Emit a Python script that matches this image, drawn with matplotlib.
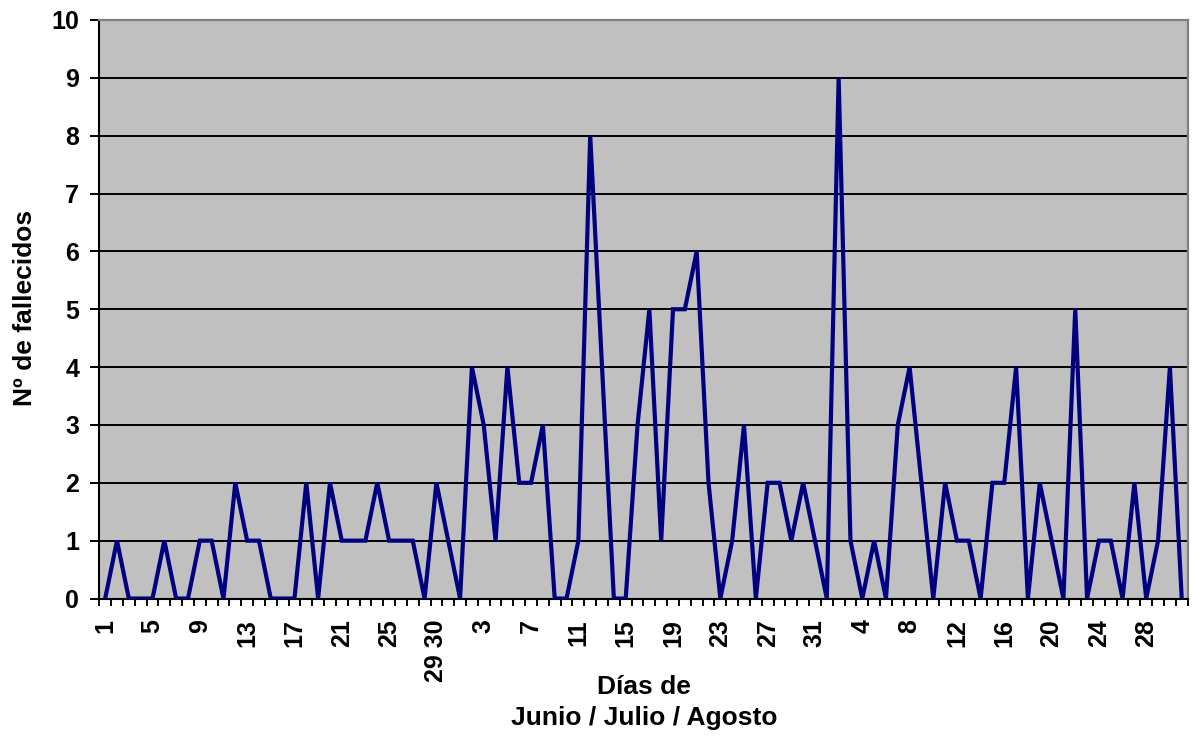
import matplotlib
matplotlib.use('Agg')
import matplotlib.pyplot as plt
import numpy as np

plt.rcParams['font.family'] = ['Liberation Sans', 'DejaVu Sans']
plt.rcParams['font.weight'] = 'bold'

# Días (categorías) de junio, julio y agosto
dias_junio = [str(d) for d in range(1, 29)] + ['29 30', '30']
dias_julio = [str(d) for d in range(1, 32)]
dias_agosto = [str(d) for d in range(1, 32)]

# Nº de fallecidos por día
fallecidos_junio = [0, 1, 0, 0, 0, 1, 0, 0, 1, 1,
                    0, 2, 1, 1, 0, 0, 0, 2, 0, 2,
                    1, 1, 1, 2, 1, 1, 1, 0, 2, 1]
fallecidos_julio = [0, 4, 3, 1, 4, 2, 2, 3, 0, 0,
                    1, 8, 4, 0, 0, 3, 5, 1, 5, 5,
                    6, 2, 0, 1, 3, 0, 2, 2, 1, 2, 1]
fallecidos_agosto = [0, 9, 1, 0, 1, 0, 3, 4, 2, 0,
                     2, 1, 1, 0, 2, 2, 4, 0, 2, 1,
                     0, 5, 0, 1, 1, 0, 2, 0, 1, 4, 0]

etiquetas = dias_junio + dias_julio + dias_agosto
valores = fallecidos_junio + fallecidos_julio + fallecidos_agosto
x = np.arange(len(valores))

fig = plt.figure(figsize=(11.93, 7.40), dpi=100)
ax = fig.add_axes([0.0832, 0.1912, 0.9123, 0.7818])
ax.set_facecolor('#C0C0C0')

# líneas de división horizontales
ax.set_ylim(0, 10)
ax.set_yticks(range(0, 11))
ax.yaxis.grid(True, color='black', linewidth=1.4)
ax.set_axisbelow(True)

ax.plot(x, valores, color='#000080', linewidth=3.0, solid_joinstyle='miter', zorder=3)

# eje de categorías: marcas entre días, etiqueta cada 4 días
ax.set_xlim(-0.5, len(valores) - 0.5)
ax.set_xticks(x[::4])
ax.set_xticklabels([etiquetas[i] for i in x[::4]], rotation=90, fontsize=18, fontweight='bold')
ax.set_xticks(np.arange(-0.5, len(valores)), minor=True)
ax.tick_params(axis='x', which='major', length=0, pad=15)
ax.tick_params(axis='x', which='minor', length=5, width=1.4, color='black')
ax.tick_params(axis='y', length=6.5, width=1.4, pad=8, labelsize=18)
for lbl in ax.get_yticklabels():
    lbl.set_fontweight('bold')

for lado in ['left', 'bottom']:
    ax.spines[lado].set_color('black')
    ax.spines[lado].set_linewidth(1.5)
for lado in ['top', 'right']:
    ax.spines[lado].set_color('#808080')
    ax.spines[lado].set_linewidth(1.6)

fig.text(25 / 1193, 1 - 308 / 740, 'Nº de fallecidos', rotation=90,
         ha='center', va='center', fontsize=19, fontweight='bold')
fig.text(644 / 1193, 1 - 687 / 740, 'Días de', ha='center', va='center',
         fontsize=19, fontweight='bold')
fig.text(644 / 1193, 1 - 718 / 740, 'Junio / Julio / Agosto', ha='center', va='center',
         fontsize=19, fontweight='bold')

plt.savefig('out.png', dpi=100, facecolor='white')
plt.close(fig)
